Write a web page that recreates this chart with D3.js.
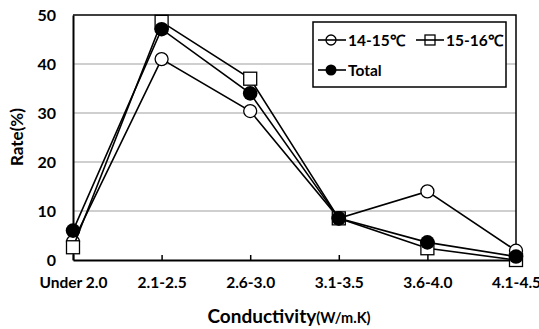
<!DOCTYPE html>
<html>
<head>
<meta charset="utf-8">
<script src="https://cdn.jsdelivr.net/npm/d3@7"></script>
<style>
  body { margin: 0; background: #fff; }
  text { font-family: Lato, "Open Sans", sans-serif; font-weight: bold; }
</style>
</head>
<body>
<svg id="chart" width="539" height="329"></svg>
<script>
// categories and series
const categories = ["Under 2.0", "2.1-2.5", "2.6-3.0", "3.1-3.5", "3.6-4.0", "4.1-4.5"];
const rate1415 = [3.7, 41, 30.4, 8.5, 14, 1.9];
const rate1516 = [2.6, 48.6, 37, 8.5, 2.4, 0];
const rateTotal = [6, 47.1, 34, 8.5, 3.6, 0.7];
const yTicks = [0, 10, 20, 30, 40, 50];

const series = [
  {name: "14-15℃", values: rate1415, marker: "circle"},
  {name: "15-16℃", values: rate1516, marker: "square"},
  {name: "Total", values: rateTotal, marker: "dot"}
];

const svg = d3.select("#chart");
const plotL = 73, plotR = 516, plotT = 15, plotB = 260;

const x = d3.scalePoint().domain(categories).range([plotL, plotR]).padding(0);
const y = d3.scaleLinear().domain([0, 50]).range([plotB, plotT]);

// grid lines
svg.append("g").selectAll("line")
  .data(yTicks.filter(d => d > 0 && d < 50))
  .enter().append("line")
  .attr("x1", plotL).attr("x2", plotR)
  .attr("y1", d => y(d)).attr("y2", d => y(d))
  .attr("stroke", "#a0a0a0").attr("stroke-width", 1.2);

// plot border top / right
svg.append("path")
  .attr("d", `M${plotL},${y(50)}H${plotR}V${plotB}`)
  .attr("fill", "none").attr("stroke", "#000").attr("stroke-width", 1.5);

// y axis
const yAxis = svg.append("g").attr("transform", `translate(${plotL},0)`)
  .call(d3.axisLeft(y).tickValues(yTicks).tickSize(0).tickPadding(17));
yAxis.select(".domain").attr("stroke", "#000").attr("stroke-width", 2);
yAxis.selectAll("text").attr("font-size", 16).attr("fill", "#000");

// x axis, ticks inward
const xAxis = svg.append("g").attr("transform", `translate(0,${plotB})`)
  .call(d3.axisBottom(x).tickSizeInner(-5).tickSizeOuter(0).tickPadding(17));
xAxis.select(".domain").attr("stroke", "#000").attr("stroke-width", 2);
xAxis.selectAll("line").attr("stroke", "#000").attr("stroke-width", 1.5);
xAxis.selectAll("text").attr("font-size", 15.5).attr("fill", "#000");

// axis titles
svg.append("text")
  .attr("transform", "translate(23,137) rotate(-90)")
  .attr("text-anchor", "middle").attr("font-size", 17)
  .text("Rate(%)");

const xt = svg.append("text")
  .attr("x", 289).attr("y", 323)
  .attr("text-anchor", "middle").attr("font-size", 19);
xt.append("tspan").text("Conductivity");
xt.append("tspan").attr("font-size", 14.5).text("(W/m.K)");

// markers
function drawMarker(g, type, cx, cy) {
  if (type === "circle") {
    g.append("circle").attr("cx", cx).attr("cy", cy).attr("r", 6.5)
      .attr("fill", "#fff").attr("stroke", "#000").attr("stroke-width", 1.3);
  } else if (type === "square") {
    g.append("rect").attr("x", cx - 6.5).attr("y", cy - 6.5)
      .attr("width", 13).attr("height", 13)
      .attr("fill", "#fff").attr("stroke", "#000").attr("stroke-width", 1.3);
  } else {
    g.append("circle").attr("cx", cx).attr("cy", cy).attr("r", 7.3)
      .attr("fill", "#000");
  }
}

const line = d3.line().x((d, i) => x(categories[i])).y(d => y(d));

series.forEach(s => {
  const g = svg.append("g");
  g.append("path").datum(s.values)
    .attr("d", line).attr("fill", "none")
    .attr("stroke", "#000").attr("stroke-width", 1.6);
  s.values.forEach((v, i) => drawMarker(g, s.marker, x(categories[i]), y(v)));
});

// legend
const lg = svg.append("g");
lg.append("rect").attr("x", 313).attr("y", 22).attr("width", 193).attr("height", 65)
  .attr("fill", "#fff").attr("stroke", "#000").attr("stroke-width", 1.5);
const legendPos = [[318, 40], [416, 40], [318, 70]];
series.forEach((s, i) => {
  const [lx, ly] = legendPos[i];
  lg.append("line").attr("x1", lx).attr("x2", lx + 28).attr("y1", ly).attr("y2", ly)
    .attr("stroke", "#000").attr("stroke-width", 1.6);
  const mg = lg.append("g");
  if (s.marker === "circle") {
    mg.append("circle").attr("cx", lx + 13).attr("cy", ly).attr("r", 5)
      .attr("fill", "none").attr("stroke", "#000").attr("stroke-width", 1.3);
  } else if (s.marker === "square") {
    mg.append("rect").attr("x", lx + 9).attr("y", ly - 5).attr("width", 10).attr("height", 10)
      .attr("fill", "none").attr("stroke", "#000").attr("stroke-width", 1.3);
  } else {
    mg.append("circle").attr("cx", lx + 13).attr("cy", ly).attr("r", 5.5).attr("fill", "#000");
  }
  lg.append("text").attr("x", lx + 30).attr("y", ly + 6)
    .attr("font-size", 15.5).text(s.name);
});
</script>
</body>
</html>
